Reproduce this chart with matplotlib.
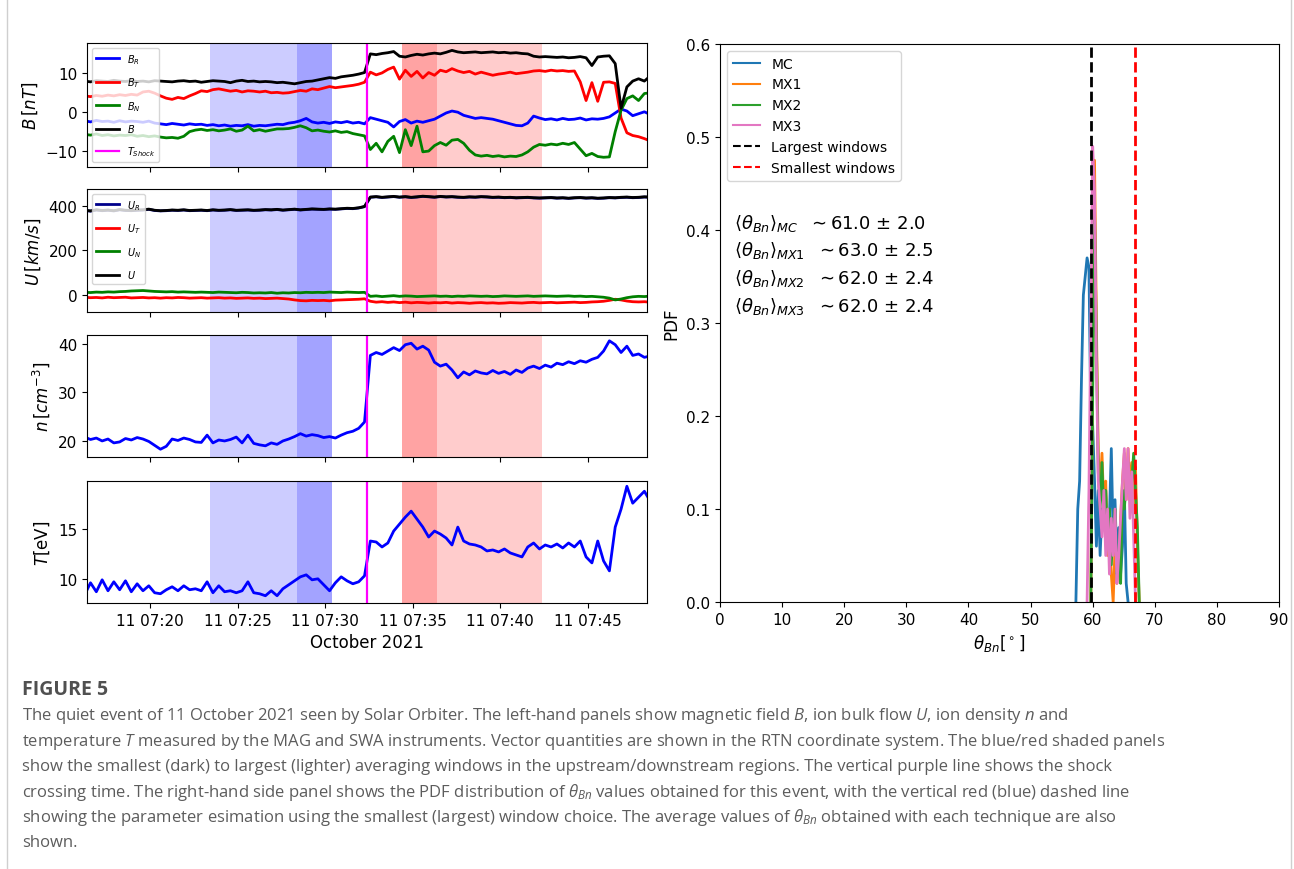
# Solar Orbiter shock event, 11 Oct 2021: time series + theta_Bn PDF
import numpy as np
import pandas as pd
import matplotlib
matplotlib.use('Agg')
import matplotlib.pyplot as plt
import matplotlib.dates as mdates
from matplotlib.lines import Line2D

plt.rcParams['font.family'] = ['DejaVu Sans']
plt.rcParams['mathtext.rm'] = 'Open Sans'
plt.rcParams['mathtext.it'] = 'Open Sans:italic'

# 20 s samples starting 07:16:15
times = pd.date_range('2021-10-11 07:16:15', periods=98, freq='20s')

b_mag = [8.0, 7.8, 8.1, 8.0, 7.9, 8.2, 8.0, 7.9, 8.1, 7.9,
         8.0, 7.8, 8.1, 8.0, 7.9, 7.8, 8.0, 8.1, 7.9, 8.0,
         7.7, 7.9, 8.1, 8.0, 7.9, 7.6, 8.0, 8.2, 7.9, 8.0,
         7.8, 7.9, 7.8, 7.6, 7.7, 7.5, 7.3, 7.6, 7.9, 8.0,
         8.3, 8.6, 8.9, 8.7, 9.1, 9.3, 9.5, 9.8, 10.2,
         15.0, 14.8, 15.1, 15.3, 15.6, 14.4, 14.2, 14.6, 14.9, 14.7,
         15.0, 15.2, 15.0, 15.4, 15.9, 15.5, 15.3, 15.4, 15.5, 15.3,
         15.4, 15.5, 15.3, 15.4, 15.2, 15.3, 15.1, 15.0, 14.4, 14.2,
         14.3, 14.2, 14.1, 14.2, 14.0, 14.1, 14.3, 14.0, 12.0, 14.2,
         14.4, 14.5, 12.5, 1.0, 6.5, 8.0, 8.6, 8.0, 9.3]
b_t = [4.2, 4.0, 4.3, 4.1, 4.4, 4.2, 4.5, 4.3, 4.6, 4.4,
       5.2, 5.4, 4.9, 4.2, 3.6, 3.3, 3.8, 3.5, 4.2, 4.8,
       5.5, 5.3, 5.8, 6.0, 5.7, 5.4, 5.6, 5.2, 5.5, 5.4,
       5.2, 5.4, 5.0, 5.1, 4.9, 5.0, 5.3, 5.6, 5.4, 6.0,
       5.8, 6.2, 6.6, 6.3, 6.5, 6.7, 6.9, 7.2, 7.7,
       10.3, 9.6, 10.1, 11.0, 11.6, 8.5, 10.8, 9.2, 10.5, 8.8,
       10.2, 9.5, 10.8, 10.4, 11.2, 10.6, 10.2, 10.5, 9.8, 10.3,
       9.9, 9.5, 9.8, 10.0, 10.3, 9.9, 10.1, 10.3, 10.6, 10.7,
       10.5, 10.8, 10.6, 10.7, 10.5, 10.6, 7.8, 3.0, 7.6, 2.8,
       7.7, 7.8, 7.4, -1.5, -5.3, -6.0, -6.3, -6.8, -7.4]
b_r = [-2.2, -2.5, -2.1, -2.4, -2.3, -2.6, -2.2, -2.5, -2.3, -2.4,
       -2.6, -2.3, -2.8, -3.0, -3.2, -2.9, -3.1, -3.3, -3.0, -3.2,
       -3.1, -3.4, -3.2, -3.5, -3.3, -3.6, -3.4, -3.5, -3.2, -3.6,
       -3.4, -3.5, -3.3, -3.1, -3.2, -2.8, -2.6, -2.2, -1.6, -2.5,
       -2.8, -2.6, -2.9, -2.5, -2.7, -2.4, -2.8, -2.6, -3.0,
       -1.4, -1.8, -2.2, -2.6, -3.8, -2.4, -1.9, -2.8, -2.3, -2.6,
       -2.2, -1.8, -1.0, -0.2, 0.3, 0.0, -0.8, -1.2, -1.6, -1.4,
       -1.6, -1.8, -2.2, -2.6, -3.0, -3.4, -3.5, -2.8, -1.0, -1.5,
       -1.9, -1.7, -2.0, -1.6, -1.9, -1.8, -1.5, -2.0, -1.7, -1.8,
       -1.6, -1.2, -0.2, 0.8, 0.3, -0.9, -0.4, 0.1, -0.6]
b_n = [-5.7, -5.9, -5.6, -6.0, -5.8, -6.1, -5.9, -6.0, -5.8, -6.2,
       -6.0, -6.3, -6.1, -6.4, -6.6, -6.5, -6.7, -6.2, -5.0, -4.6,
       -4.4, -4.7, -4.5, -4.8, -4.6, -4.3, -4.9, -4.6, -3.6, -4.8,
       -4.5, -4.9, -4.6, -4.3, -4.3, -4.2, -3.9, -3.5, -4.0, -4.8,
       -4.6, -4.9, -5.1, -4.8, -5.2, -5.0, -5.5, -5.8, -6.1,
       -9.6, -8.0, -10.2, -7.5, -6.2, -10.4, -4.5, -8.6, -3.6, -10.2,
       -10.0, -8.6, -7.8, -8.5, -7.2, -7.0, -8.0, -9.8, -11.0, -11.3,
       -11.1, -11.4, -11.2, -11.5, -11.3, -11.4, -11.0, -10.2, -9.0, -8.3,
       -8.5, -8.2, -8.4, -8.0, -8.3, -7.8, -9.5, -11.2, -10.6, -11.4,
       -11.6, -11.5, -5.0, 0.5, 3.5, 4.2, 3.0, 4.8, 5.0]

u_mag = [379, 376, 381, 378, 380, 377, 382, 379, 378, 380,
         381, 384, 379, 377, 378, 380, 379, 381, 378, 379,
         380, 378, 381, 379, 380, 382, 379, 380, 381, 379,
         380, 382, 381, 383, 380, 382, 384, 381, 383, 385,
         384, 383, 385, 384, 386, 388, 387, 390, 396,
         438, 440, 437, 439, 441, 438, 440, 437, 439, 442,
         440, 438, 441, 439, 440, 438, 437, 439, 438, 440,
         439, 437, 438, 436, 437, 435, 436, 437, 435, 434,
         435, 436, 434, 435, 433, 435, 436, 434, 435, 433,
         434, 436, 435, 437, 438, 436, 437, 439, 438]
u_r = [378, 375, 380, 377, 379, 376, 381, 378, 377, 379,
       380, 383, 378, 376, 377, 379, 378, 380, 377, 378,
       379, 377, 380, 378, 379, 381, 378, 379, 380, 378,
       379, 381, 380, 382, 379, 381, 383, 380, 382, 384,
       383, 382, 384, 383, 385, 387, 386, 389, 395,
       437, 439, 436, 438, 440, 437, 439, 436, 438, 441,
       439, 437, 440, 438, 439, 437, 436, 438, 437, 439,
       438, 436, 437, 435, 436, 434, 435, 436, 434, 433,
       434, 435, 433, 434, 432, 434, 435, 433, 434, 432,
       433, 435, 434, 436, 437, 435, 436, 438, 437]
u_t = [-10, -12, -11, -13, -10, -12, -11, -10, -13, -12,
       -11, -13, -12, -14, -12, -13, -11, -12, -14, -13,
       -12, -14, -13, -12, -14, -13, -15, -14, -13, -15,
       -14, -16, -15, -14, -16, -18, -22, -25, -26, -24,
       -25, -24, -26, -23, -22, -21, -20, -19, -17,
       -28, -32, -30, -33, -31, -34, -32, -35, -33, -34,
       -36, -34, -35, -33, -36, -34, -35, -37, -35, -34,
       -36, -35, -37, -36, -34, -35, -36, -34, -33, -35,
       -34, -33, -35, -34, -33, -32, -34, -33, -31, -30,
       -28, -24, -19, -22, -27, -30, -31, -30, -32]
u_n = [12, 11, 13, 12, 14, 13, 15, 16, 18, 19,
       20, 18, 16, 15, 14, 15, 13, 14, 13, 12,
       13, 12, 11, 13, 12, 11, 10, 12, 11, 9,
       10, 9, 11, 8, 10, 9, 11, 10, 12, 11,
       12, 11, 13, 12, 11, 13, 12, 11, 12,
       -6, -4, -7, -5, -3, -6, -4, -5, -7, -6,
       -5, -4, -6, -5, -7, -5, -6, -4, -5, -6,
       -5, -7, -6, -4, -5, -6, -5, -4, -6, -5,
       -4, -5, -6, -5, -4, -6, -5, -7, -6, -8,
       -10, -14, -22, -18, -12, -8, -6, -7, -5]

dens = [20.8, 20.3, 20.6, 20.0, 20.4, 19.6, 19.8, 20.5, 20.2, 20.7,
        20.4, 19.9, 19.1, 18.3, 18.9, 20.4, 20.1, 20.6, 20.3, 19.8,
        19.7, 21.2, 19.6, 20.2, 20.0, 20.3, 20.8, 19.6, 21.2, 19.5,
        19.2, 19.0, 19.6, 19.3, 20.0, 20.4, 20.9, 21.5, 21.0, 21.3,
        21.1, 20.7, 20.9, 20.6, 21.2, 21.7, 22.0, 22.6, 23.9,
        37.6, 38.2, 37.8, 38.5, 39.2, 38.6, 39.8, 40.1, 38.9, 39.5,
        38.7, 36.2, 35.4, 35.8, 34.6, 33.0, 34.2, 33.6, 34.4, 34.0,
        33.8, 34.5, 33.9, 34.3, 33.7, 34.6, 34.1, 35.0, 35.4, 34.9,
        35.6, 35.2, 36.0, 35.7, 36.3, 35.9, 36.5, 36.2, 36.8, 37.2,
        38.5, 40.6, 39.8, 38.2, 39.5, 37.6, 37.9, 37.2, 37.5]
temp = [8.4, 9.6, 8.7, 9.9, 8.8, 9.7, 8.9, 9.8, 8.7, 9.5,
        8.8, 9.3, 8.6, 8.5, 8.9, 9.2, 8.8, 9.3, 8.9, 9.0,
        8.8, 9.7, 8.6, 9.3, 8.7, 8.8, 8.6, 8.8, 9.7, 8.6,
        8.5, 8.3, 8.8, 8.3, 9.0, 9.4, 9.8, 10.2, 10.4, 9.9,
        10.0, 9.4, 8.8, 9.6, 10.2, 9.8, 9.5, 9.7, 10.3,
        13.8, 13.7, 13.2, 13.6, 14.8, 15.5, 16.2, 16.8, 16.0, 15.2,
        14.2, 14.8, 14.5, 14.1, 13.4, 15.2, 13.8, 13.5, 13.4, 13.2,
        12.8, 12.9, 12.7, 13.0, 12.6, 12.4, 12.2, 13.2, 13.6, 13.0,
        13.4, 13.2, 13.5, 13.1, 13.6, 13.2, 13.8, 12.2, 11.6, 13.8,
        11.8, 10.8, 15.2, 17.0, 19.3, 17.6, 18.2, 18.8, 17.8]

t_shock = pd.Timestamp('2021-10-11 07:32:25')
up_windows = [('07:23:25', '07:30:25'), ('07:28:25', '07:30:25')]
down_windows = [('07:34:25', '07:42:25'), ('07:34:25', '07:36:25')]

# theta_Bn PDFs (NaN outside support)
theta = [57.0, 57.3, 57.6, 57.9, 58.2, 58.5, 58.8, 59.1, 59.4, 59.7,
         60.0, 60.3, 60.6, 60.9, 61.2, 61.5, 61.8, 62.1, 62.4, 62.7,
         63.0, 63.3, 63.6, 63.9, 64.2, 64.5, 64.8, 65.1, 65.4, 65.7,
         66.0, 66.3, 66.6, 66.9, 67.2, 67.5, 67.8]
nan = np.nan
pdf_mc = [nan, 0.0, 0.10, 0.13, 0.24, 0.33, 0.35, 0.37, 0.36, 0.20,
          0.19, 0.13, 0.06, 0.12, 0.05, 0.10, 0.08, 0.12, 0.06, 0.09,
          0.165, 0.07, 0.11, 0.04, 0.08, 0.03, 0.06, 0.12, 0.02, 0.0,
          nan, nan, nan, nan, nan, nan, nan]
pdf_mx1 = [nan, nan, nan, nan, nan, nan, nan, nan, nan, 0.0,
           0.25, 0.475, 0.30, 0.16, 0.12, 0.16, 0.10, 0.13, 0.05, 0.08,
           0.03, 0.0, 0.06, 0.02, 0.04, 0.09, 0.13, 0.16, 0.11, 0.165,
           0.12, 0.15, 0.10, 0.145, 0.06, 0.0, nan]
pdf_mx2 = [nan, nan, nan, nan, nan, nan, nan, nan, nan, 0.0,
           0.22, 0.42, 0.28, 0.14, 0.10, 0.15, 0.09, 0.12, 0.06, 0.10,
           0.04, 0.08, 0.10, 0.03, 0.05, 0.02, 0.12, 0.10, 0.13, 0.15,
           0.11, 0.13, 0.16, 0.12, 0.08, 0.0, nan]
pdf_mx3 = [nan, nan, nan, nan, nan, nan, nan, 0.0, 0.12, 0.30,
           0.49, 0.44, 0.26, 0.13, 0.10, 0.07, 0.12, 0.05, 0.10, 0.03,
           0.09, 0.05, 0.10, 0.02, 0.05, 0.09, 0.13, 0.165, 0.11, 0.165,
           0.09, 0.14, 0.07, 0.0, nan, nan, nan]
methods = ['MC', 'MX1', 'MX2', 'MX3']
theta_mean = [61.0, 63.0, 62.0, 62.0]
theta_std = [2.0, 2.5, 2.4, 2.4]
theta_largest = 59.8
theta_smallest = 66.8

W, H = 1294, 870
fig = plt.figure(figsize=(W / 100, H / 100), dpi=100)


def px_axes(x0, y0, x1, y1):
    return fig.add_axes([x0 / W, 1 - y1 / H, (x1 - x0) / W, (y1 - y0) / H])


ax_b = px_axes(87, 44, 647, 168)
ax_u = px_axes(87, 190, 647, 313)
ax_n = px_axes(87, 336, 647, 458)
ax_t = px_axes(87, 482, 647, 604)
ax_p = px_axes(720, 45, 1279, 603)

day = '2021-10-11 '
for ax in (ax_b, ax_u, ax_n, ax_t):
    for a, b in up_windows:
        ax.axvspan(pd.Timestamp(day + a), pd.Timestamp(day + b), color='blue', alpha=0.2, lw=0)
    for a, b in down_windows:
        ax.axvspan(pd.Timestamp(day + a), pd.Timestamp(day + b), color='red', alpha=0.2, lw=0)
    ax.set_xlim(pd.Timestamp(day + '07:16:23'), pd.Timestamp(day + '07:48:24'))
    ax.xaxis.set_major_locator(mdates.MinuteLocator(byminute=range(0, 60, 5)))
    ax.xaxis.set_major_formatter(mdates.DateFormatter('%d %H:%M'))
    ax.tick_params(labelsize=11)

lw = 2
ax_b.plot(times, b_r, color='blue', lw=lw, label='$B_R$')
ax_b.plot(times, b_t, color='red', lw=lw, label='$B_T$')
ax_b.plot(times, b_n, color='green', lw=lw, label='$B_N$')
ax_b.plot(times, b_mag, color='black', lw=lw, label='$B$')
ax_b.axvline(t_shock, color='magenta', lw=1.6, label='$T_{Shock}$')
ax_b.set_ylim(-14.1, 17.8)
ax_b.set_ylabel(r'$B\,[nT]$', fontsize=12)
ax_b.legend(loc='upper left', fontsize=7, handlelength=2.4, labelspacing=1.0)

ax_u.plot(times, u_r, color='darkblue', lw=lw, label='$U_R$')
ax_u.plot(times, u_t, color='red', lw=lw, label='$U_T$')
ax_u.plot(times, u_n, color='green', lw=lw, label='$U_N$')
ax_u.plot(times, u_mag, color='black', lw=lw, label='$U$')
ax_u.axvline(t_shock, color='magenta', lw=1.6)
ax_u.set_ylim(-76, 474)
ax_u.set_ylabel(r'$U\,[km/s]$', fontsize=12)
ax_u.legend(loc='upper left', fontsize=7, handlelength=2.4, labelspacing=1.0)

ax_n.plot(times, dens, color='blue', lw=lw)
ax_n.axvline(t_shock, color='magenta', lw=1.6)
ax_n.set_ylim(16.7, 41.8)
ax_n.set_yticks([20, 30, 40])
ax_n.set_ylabel(r'$n\,[cm^{-3}]$', fontsize=12)

ax_t.plot(times, temp, color='blue', lw=lw)
ax_t.axvline(t_shock, color='magenta', lw=1.6)
ax_t.set_ylim(7.57, 19.83)
ax_t.set_yticks([10, 15])
ax_t.set_ylabel(r'$T$[eV]', fontsize=12)
ax_t.set_xlabel('October 2021', fontsize=12)

for ax in (ax_b, ax_u, ax_n):
    ax.tick_params(labelbottom=False)

# PDF panel
pdf_colors = ['tab:blue', 'tab:orange', 'tab:green', 'tab:pink']
for name, vals, c in zip(methods, [pdf_mc, pdf_mx1, pdf_mx2, pdf_mx3], pdf_colors):
    ax_p.plot(theta, vals, color=c, lw=2, label=name)
ax_p.axvline(theta_largest, color='black', ls='--', lw=2, label='Largest windows')
ax_p.axvline(theta_smallest, color='red', ls='--', lw=2, label='Smallest windows')
ax_p.set_xlim(0, 90)
ax_p.set_ylim(0, 0.6)
ax_p.set_xticks(range(0, 91, 10))
ax_p.tick_params(labelsize=11)
ax_p.set_ylabel('PDF', fontsize=12)
ax_p.set_xlabel(r'$\theta_{Bn}[^\circ]$', fontsize=12)
ax_p.legend(loc='upper left', fontsize=10)
# legend handles drawn thinner like the default
for h in ax_p.get_legend().get_lines():
    h.set_linewidth(1.5)
for i, (name, m, s) in enumerate(zip(methods, theta_mean, theta_std)):
    ax_p.text(2.3, 0.4086 - i * 0.0301,
              r'$\langle\theta_{Bn}\rangle_{%s}$  $\sim$%.1f $\pm$ %.1f' % (name, m, s),
              fontsize=13, va='center')

# caption block
cap_color = '#5c5c5c'
fig.text(22 / W, 1 - 690 / H, 'FIGURE 5', fontsize=14, fontweight='bold',
         family='Open Sans', color='#505050', va='center')
caption = [
    'The quiet event of 11 October 2021 seen by Solar Orbiter. The left-hand panels show magnetic field $B$, ion bulk flow $U$, ion density $n$ and',
    'temperature $T$ measured by the MAG and SWA instruments. Vector quantities are shown in the RTN coordinate system. The blue/red shaded panels',
    'show the smallest (dark) to largest (lighter) averaging windows in the upstream/downstream regions. The vertical purple line shows the shock',
    r'crossing time. The right-hand side panel shows the PDF distribution of $\theta_{Bn}$ values obtained for this event, with the vertical red (blue) dashed line',
    r'showing the parameter esimation using the smallest (largest) window choice. The average values of $\theta_{Bn}$ obtained with each technique are also',
    'shown.',
]
cap_y = [716, 742, 767, 793, 818, 843]
for line, y in zip(caption, cap_y):
    fig.text(22 / W, 1 - y / H, line, fontsize=12.0, family='Open Sans',
             color=cap_color, va='center', math_fontfamily='custom')

for x in (7, 1291):
    fig.add_artist(Line2D([x / W, x / W], [0, 1], color='#cfcfcf', lw=1,
                          transform=fig.transFigure))

fig.savefig('out.png', dpi=100)
